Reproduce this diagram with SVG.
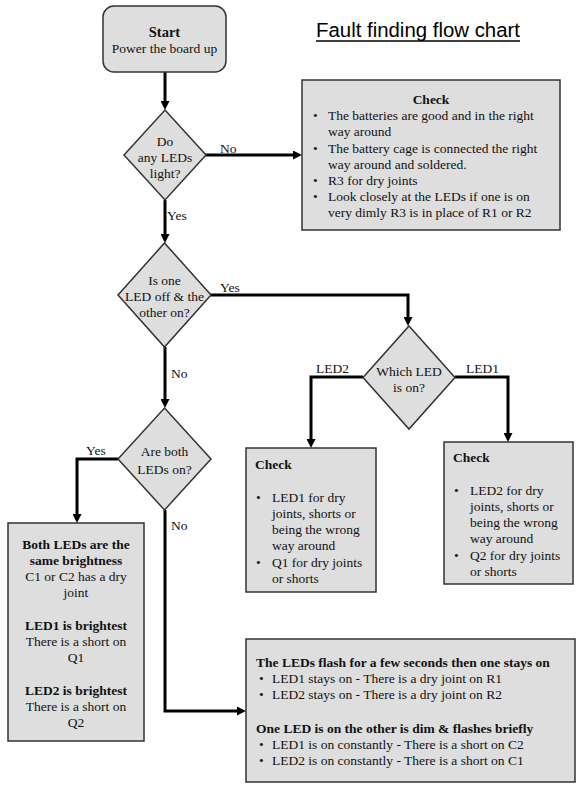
<svg xmlns="http://www.w3.org/2000/svg" width="579" height="786" viewBox="0 0 579 786">
<style>
.box{fill:#dedede;stroke:#333;stroke-width:1.5}
.t{font-family:"Liberation Serif","Times New Roman",serif;font-size:13.5px;fill:#111}
.b{font-weight:bold}
.c{text-anchor:middle}
.con{fill:none;stroke:#000;stroke-width:3}
.title{font-family:"Liberation Sans",Arial,sans-serif;font-size:19.5px;fill:#000}
</style>
<defs>
<marker id="ah" viewBox="0 0 10 10" markerUnits="userSpaceOnUse" markerWidth="9" markerHeight="9" refX="5.6" refY="5" orient="auto">
<path d="M0,0 L10,5 L0,10 z" fill="#000"/>
</marker>
</defs>
<rect width="579" height="786" fill="#fff"/>

<g id="title">
<text class="title" x="316" y="37" textLength="204" lengthAdjust="spacingAndGlyphs">Fault finding flow chart</text>
<line x1="316" y1="41" x2="520" y2="41" stroke="#000" stroke-width="1.5"/>
</g>

<g id="connectors">
<path class="con" d="M165,72 V106" marker-end="url(#ah)"/>
<path class="con" d="M205,155 H298" marker-end="url(#ah)"/>
<path class="con" d="M165,200 V239" marker-end="url(#ah)"/>
<path class="con" d="M210,295 H408 V322" marker-end="url(#ah)"/>
<path class="con" d="M363,377 H311 V444" marker-end="url(#ah)"/>
<path class="con" d="M455,377 H508 V438" marker-end="url(#ah)"/>
<path class="con" d="M165,347 V404" marker-end="url(#ah)"/>
<path class="con" d="M118,459 H77 V519" marker-end="url(#ah)"/>
<path class="con" d="M165,510 V711 H242" marker-end="url(#ah)"/>
<text class="t" x="220" y="153">No</text>
<text class="t" x="167" y="220">Yes</text>
<text class="t" x="220" y="292">Yes</text>
<text class="t" x="316" y="373">LED2</text>
<text class="t" x="466" y="373">LED1</text>
<text class="t" x="171" y="378">No</text>
<text class="t" x="86" y="455">Yes</text>
<text class="t" x="171" y="530">No</text>
</g>

<g id="start">
<rect class="box" x="103" y="6" width="123" height="66" rx="11"/>
<text class="t b c" x="164.5" y="37" style="font-size:14.5px">Start</text>
<text class="t c" x="164.5" y="53">Power the board up</text>
</g>

<g id="d1">
<polygon class="box" points="165,110 206,155 165,200 124,155"/>
<text class="t c" x="165" y="146">Do</text>
<text class="t c" x="165" y="162">any LEDs</text>
<text class="t c" x="165" y="178">light?</text>
</g>

<g id="check1">
<rect class="box" x="302" y="80" width="258" height="150"/>
<text class="t b c" x="431" y="104">Check</text>
<text class="t" x="313" y="120">•</text>
<text class="t" x="328" y="120">The batteries are good and in the right</text>
<text class="t" x="328" y="136">way around</text>
<text class="t" x="313" y="153">•</text>
<text class="t" x="328" y="153">The battery cage is connected the right</text>
<text class="t" x="328" y="169">way around and soldered.</text>
<text class="t" x="313" y="185">•</text>
<text class="t" x="328" y="185">R3 for dry joints</text>
<text class="t" x="313" y="201">•</text>
<text class="t" x="328" y="201">Look closely at the LEDs if one is on</text>
<text class="t" x="328" y="217">very dimly R3 is in place of R1 or R2</text>
</g>

<g id="d2">
<polygon class="box" points="164.5,243 211,295 164.5,347 118,295"/>
<text class="t c" x="164.5" y="285">Is one</text>
<text class="t c" x="164.5" y="301">LED off &amp; the</text>
<text class="t c" x="164.5" y="317">other on?</text>
</g>

<g id="d3">
<polygon class="box" points="409,326 455,377.5 409,429 363,377.5"/>
<text class="t c" x="409" y="376">Which LED</text>
<text class="t c" x="409" y="392">is on?</text>
</g>

<g id="check2">
<rect class="box" x="246" y="448" width="130" height="144"/>
<text class="t b" x="255" y="469">Check</text>
<text class="t" x="256" y="502">•</text>
<text class="t" x="272" y="502">LED1 for dry</text>
<text class="t" x="272" y="518">joints, shorts or</text>
<text class="t" x="272" y="534">being the wrong</text>
<text class="t" x="272" y="550">way around</text>
<text class="t" x="256" y="567">•</text>
<text class="t" x="272" y="567">Q1 for dry joints</text>
<text class="t" x="272" y="583">or shorts</text>
</g>

<g id="check3">
<rect class="box" x="444" y="442" width="129" height="142"/>
<text class="t b" x="453" y="462">Check</text>
<text class="t" x="454" y="495">•</text>
<text class="t" x="470" y="495">LED2 for dry</text>
<text class="t" x="470" y="511">joints, shorts or</text>
<text class="t" x="470" y="527">being the wrong</text>
<text class="t" x="470" y="543">way around</text>
<text class="t" x="454" y="560">•</text>
<text class="t" x="470" y="560">Q2 for dry joints</text>
<text class="t" x="470" y="576">or shorts</text>
</g>

<g id="d4">
<polygon class="box" points="164.5,408 211,459 164.5,510 118,459"/>
<text class="t c" x="164.5" y="456">Are both</text>
<text class="t c" x="164.5" y="474">LEDs on?</text>
</g>

<g id="both">
<rect class="box" x="8" y="523" width="136" height="218"/>
<text class="t b c" x="76" y="549">Both LEDs are the</text>
<text class="t b c" x="76" y="565">same brightness</text>
<text class="t c" x="76" y="581">C1 or C2 has a dry</text>
<text class="t c" x="76" y="597">joint</text>
<text class="t b c" x="76" y="630">LED1 is brightest</text>
<text class="t c" x="76" y="646">There is a short on</text>
<text class="t c" x="76" y="662">Q1</text>
<text class="t b c" x="76" y="695">LED2 is brightest</text>
<text class="t c" x="76" y="711">There is a short on</text>
<text class="t c" x="76" y="727">Q2</text>
</g>

<g id="flash">
<rect class="box" x="246" y="639" width="329" height="143"/>
<text class="t b" x="256" y="667">The LEDs flash for a few seconds then one stays on</text>
<text class="t" x="259" y="683">•</text>
<text class="t" x="272" y="683">LED1 stays on - There is a dry joint on R1</text>
<text class="t" x="259" y="699">•</text>
<text class="t" x="272" y="699">LED2 stays on - There is a dry joint on R2</text>
<text class="t b" x="256" y="733">One LED is on the other is dim &amp; flashes briefly</text>
<text class="t" x="259" y="749">•</text>
<text class="t" x="272" y="749">LED1 is on constantly - There is a short on C2</text>
<text class="t" x="259" y="765">•</text>
<text class="t" x="272" y="765">LED2 is on constantly - There is a short on C1</text>
</g>
</svg>
